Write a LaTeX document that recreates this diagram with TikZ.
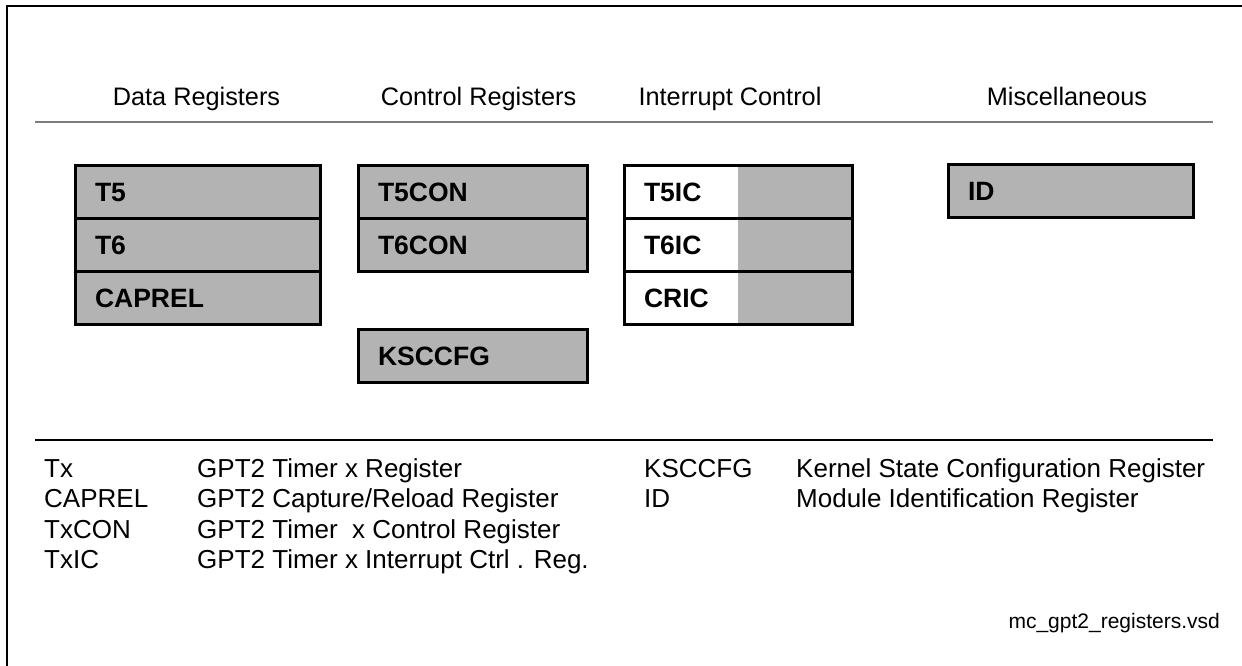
\documentclass[tikz,border=0pt]{standalone}
\usepackage{fontspec}
\setmainfont{Liberation Sans}
\usetikzlibrary{positioning,backgrounds}
\definecolor{regfill}{RGB}{179,179,179}
\definecolor{rulegray}{RGB}{125,125,125}
\newcommand{\headfont}{\fontsize{25.3}{30}\selectfont}
\newcommand{\legfont}{\fontsize{26}{30.5}\selectfont}
\newcommand{\regfont}{\fontsize{26.5}{31}\selectfont\bfseries}
\newcommand{\vsdfont}{\fontsize{21}{25}\selectfont}

\tikzset{
  reg/.style={draw, line width=3pt, fill=regfill, outer sep=0pt,
    inner xsep=20pt, inner ysep=0pt, minimum height=53pt,
    text width=#1, text height=19pt, text depth=0pt, align=left,
    font=\regfont},
  icreg/.style={reg=#1, fill=none},
  head/.style={anchor=base, inner sep=0pt, font=\headfont},
  leg/.style={anchor=base west, inner sep=0pt, font=\legfont},
}

\begin{document}
\begin{tikzpicture}[x=1pt,y=-1pt]
  \useasboundingbox (0,0) rectangle (1242,666);
  %frame
  \draw[line width=1.5pt] (7,666) -- (7,6) -- (1242,6);

  %column titles
  \node[head] (hdata) at (196.5,105.5) {Data Registers};
  \node[head] (hctrl) at (478.5,105.5) {Control Registers};
  \node[head] (hint) at (730,105.5) {Interrupt Control};
  \node[head] (hmisc) at (1067,105.5) {Miscellaneous};
  \draw[rulegray, line width=2pt] (35,122.5) -- (1213,122.5);

  %data registers
  \node[reg=205pt, anchor=north west] (t5) at (75,165) {T5};
  \node[reg=205pt, below=0pt of t5] (t6) {T6};
  \node[reg=205pt, below=0pt of t6] (caprel) {CAPREL};

  %control registers
  \node[reg=189pt, anchor=north west] (t5con) at (358,165) {T5CON};
  \node[reg=189pt, below=0pt of t5con] (t6con) {T6CON};
  \node[reg=189pt, anchor=north west] (ksccfg) at (358,329) {KSCCFG};

  %interrupt control
  \node[icreg=188pt, anchor=north west] (t5ic) at (624,165) {T5IC};
  \node[icreg=188pt, below=0pt of t5ic] (t6ic) {T6IC};
  \node[icreg=188pt, below=0pt of t6ic] (cric) {CRIC};

  %miscellaneous
  \node[reg=205pt, anchor=north west] (id) at (948,164.5) {ID};

  %legend
  \draw[line width=1.2pt] (35,440) -- (1213,440);
  \node[leg] (ltx) at (44,477) {Tx};
  \node[leg] (ltxd) at (197,477) {GPT2 Timer x Register};
  \node[leg] (lcap) at (44,507.5) {CAPREL};
  \node[leg] (lcapd) at (197,507.5) {GPT2 Capture/Reload Register};
  \node[leg] (lcon) at (44,538) {TxCON};
  \node[leg] (lcond) at (197,538) {GPT2 Timer\ \ x Control Register};
  \node[leg] (lic) at (44,568.5) {TxIC};
  \node[leg] (licd) at (197,568.5) {GPT2 Timer x Interrupt Ctrl . Reg.};
  \node[leg] (lks) at (644,477) {KSCCFG};
  \node[leg] (lksd) at (796,477) {Kernel State Configuration Register};
  \node[leg] (lid) at (644,507.5) {ID};
  \node[leg] (lidd) at (796,507.5) {Module Identification Register};

  \node[anchor=base east, inner sep=0pt, font=\vsdfont] (fname) at (1220,628)
    {mc\_gpt2\_registers.vsd};

  \begin{scope}[on background layer]
    \fill[white] (0,0) rectangle (1242,666);
    \fill[regfill] (t5ic.north) rectangle (cric.south east);
  \end{scope}
\end{tikzpicture}
\end{document}
